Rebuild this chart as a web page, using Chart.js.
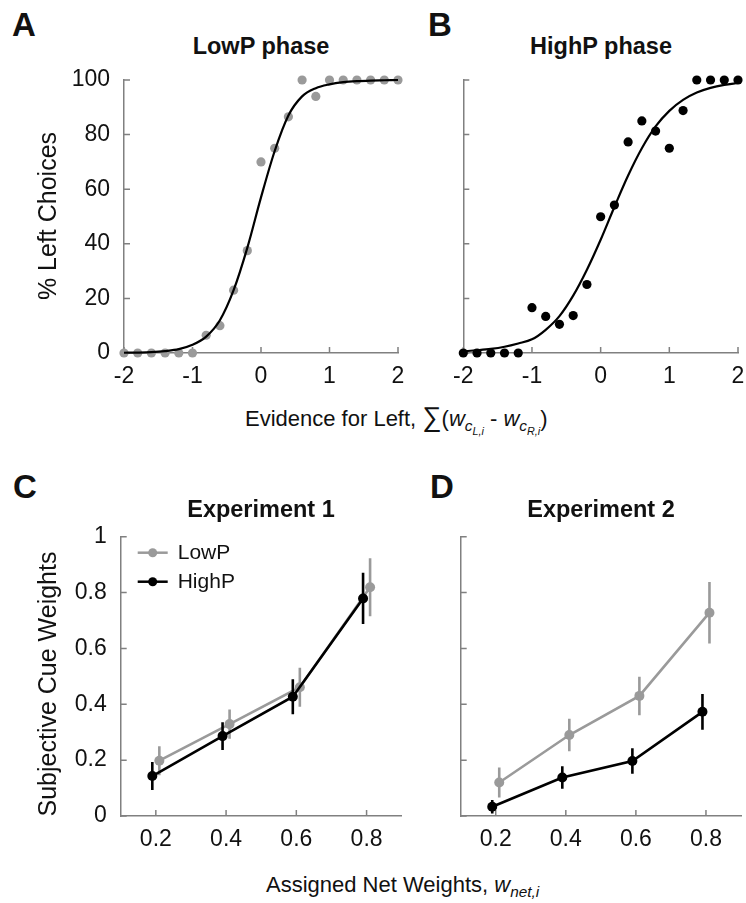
<!DOCTYPE html>
<html>
<head>
<meta charset="utf-8">
<title>Choice curves and cue weights</title>
<script src="https://cdn.jsdelivr.net/npm/chart.js@4.4.1/dist/chart.umd.min.js"></script>
<style>
  body { margin: 0; background: #fff; }
  #fig { position: relative; width: 746px; height: 903px; font-family: "Liberation Sans", Arial, sans-serif; color: #111; overflow: hidden; }
  #fig canvas { position: absolute; }
  .lbl { position: absolute; white-space: nowrap; line-height: 1; transform: translate(-50%, -50%); }
  .left { transform: translate(0, -50%); }
  .letter { font-weight: bold; font-size: 33px; }
  .title { font-weight: bold; font-size: 23.5px; }
  .axis { font-size: 22px; }
  .rot { font-size: 25px; transform: translate(-50%, -50%) rotate(-90deg); }
  .it { font-style: italic; }
  .sig { font-size: 27px; }
  sub { font-size: 70%; line-height: 0; }
</style>
</head>
<body>
<div id="fig">
  <canvas id="chartA" width="412" height="340" style="left:0;top:60px"></canvas>
  <canvas id="chartB" width="334" height="340" style="left:412px;top:60px"></canvas>
  <canvas id="chartC" width="412" height="340" style="left:0;top:520px"></canvas>
  <canvas id="chartD" width="334" height="340" style="left:412px;top:520px"></canvas>

  <div class="lbl letter" style="left:24px;top:24px">A</div>
  <div class="lbl letter" style="left:440px;top:24px">B</div>
  <div class="lbl letter" style="left:25px;top:486px">C</div>
  <div class="lbl letter" style="left:442px;top:486px">D</div>

  <div class="lbl title" style="left:261px;top:47px">LowP phase</div>
  <div class="lbl title" style="left:601px;top:47px">HighP phase</div>
  <div class="lbl title" style="left:261px;top:510px">Experiment 1</div>
  <div class="lbl title" style="left:601px;top:510px">Experiment 2</div>

  <div class="lbl rot" style="left:47px;top:216px">% Left Choices</div>
  <div class="lbl rot" style="left:47px;top:684px">Subjective Cue Weights</div>

  <div class="lbl axis left" style="left:245px;top:418px">Evidence for Left, <span class="sig">&sum;</span>(<span class="it">w</span><sub class="it">c<sub>L,i</sub></sub> - <span class="it">w</span><sub class="it">c<sub>R,i</sub></sub>)</div>
  <div class="lbl axis left" style="left:266px;top:885px">Assigned Net Weights, <span class="it">w</span><sub class="it">net,i</sub></div>
</div>

<script>
// Evidence levels and percentage of left choices per phase
const evidence = [-2, -1.8, -1.6, -1.4, -1.2, -1, -0.8, -0.6, -0.4, -0.2, 0, 0.2, 0.4, 0.6, 0.8, 1, 1.2, 1.4, 1.6, 1.8, 2];
const lowPChoices = [0, 0, 0, 0, 0, 0, 6.5, 10, 23, 37.5, 70, 75, 86.5, 100, 94, 100, 100, 100, 100, 100, 100];
const highPChoices = [0, 0, 0, 0, 0, 16.6, 13.4, 10.5, 13.7, 25.1, 49.9, 54.2, 77.3, 85, 81.3, 75, 88.8, 100, 100, 100, 100];
// Fitted psychometric curves, sampled at the same evidence levels
const lowPFit = [0.1, 0.15, 0.3, 0.7, 1.4, 3, 6, 12, 23, 38.5, 57, 74, 87, 94, 97, 98.4, 99.2, 99.6, 99.8, 99.9, 100];
const highPFit = [0.6, 1, 1.5, 2.3, 3.5, 5, 8.5, 13.5, 21, 30.5, 41.5, 53.5, 65, 75, 83, 88.7, 92.7, 95.4, 97.1, 98.2, 98.9];

// Subjective cue weights (mean and error) per assigned net weight
const netWeights = [0.2, 0.4, 0.6, 0.8];
const exp1LowP = [0.198, 0.329, 0.461, 0.819];
const exp1LowPErr = [0.052, 0.052, 0.07, 0.104];
const exp1HighP = [0.143, 0.286, 0.427, 0.779];
const exp1HighPErr = [0.05, 0.05, 0.063, 0.092];
const exp2LowP = [0.12, 0.29, 0.43, 0.728];
const exp2LowPErr = [0.054, 0.058, 0.069, 0.11];
const exp2HighP = [0.033, 0.138, 0.197, 0.373];
const exp2HighPErr = [0.024, 0.04, 0.046, 0.064];

const GREY = '#9a9a9a';
const BLACK = '#000';
const AXIS = '#808080';
const TICK_FONT = { family: '"Liberation Sans", Arial, sans-serif', size: 23 };
const SPREAD = 0.01;   // small horizontal offset so the two conditions don't overlap

// Short tick marks pointing into the plot area
const inwardTicks = {
  id: 'inwardTicks',
  beforeDatasetsDraw(chart) {
    const { ctx, chartArea: a, scales: { x, y } } = chart;
    ctx.save();
    ctx.strokeStyle = AXIS;
    ctx.lineWidth = 1.5;
    ctx.beginPath();
    x.ticks.forEach(t => {
      const px = x.getPixelForValue(t.value);
      ctx.moveTo(px, a.bottom);
      ctx.lineTo(px, a.bottom - 6);
    });
    y.ticks.forEach(t => {
      const py = y.getPixelForValue(t.value);
      ctx.moveTo(a.left, py);
      ctx.lineTo(a.left + 6, py);
    });
    ctx.stroke();
    ctx.restore();
  }
};

// Vertical error bars taken from each dataset's "errors" array
const errorBars = {
  id: 'errorBars',
  afterDatasetDraw(chart, args) {
    const ds = chart.data.datasets[args.index];
    if (!ds.errors) return;
    const { ctx, scales: { y } } = chart;
    ctx.save();
    ctx.strokeStyle = ds.borderColor;
    ctx.lineWidth = 2.6;
    ctx.beginPath();
    args.meta.data.forEach((pt, j) => {
      const v = ds.data[j].y, e = ds.errors[j];
      ctx.moveTo(pt.x, y.getPixelForValue(v - e));
      ctx.lineTo(pt.x, y.getPixelForValue(v + e));
    });
    ctx.stroke();
    ctx.restore();
  }
};

// Legend with a line and a dot for each series
const lineDotLegend = {
  id: 'lineDotLegend',
  afterDraw(chart, args, opts) {
    if (!opts.show) return;
    const { ctx, chartArea: a } = chart;
    const items = chart.data.datasets.slice().sort((p, q) => q.order - p.order);
    ctx.save();
    ctx.font = '21px "Liberation Sans", Arial, sans-serif';
    ctx.textBaseline = 'middle';
    items.forEach((ds, i) => {
      const y = a.top + 16 + i * 29;
      const x0 = a.left + 17;
      ctx.strokeStyle = ds.borderColor;
      ctx.lineWidth = 2.5;
      ctx.beginPath();
      ctx.moveTo(x0, y);
      ctx.lineTo(x0 + 30, y);
      ctx.stroke();
      ctx.fillStyle = ds.borderColor;
      ctx.beginPath();
      ctx.arc(x0 + 15, y, 4.5, 0, Math.PI * 2);
      ctx.fill();
      ctx.fillStyle = '#111';
      ctx.fillText(ds.label, x0 + 40, y + 1);
    });
    ctx.restore();
  }
};

function pairs(xs, ys, shift) {
  return xs.map((x, i) => ({ x: x + (shift || 0), y: ys[i] }));
}

function axes(o) {
  return {
    x: {
      type: 'linear', min: o.xMin, max: o.xMax,
      grid: { display: false, drawTicks: false },
      border: { display: true, color: AXIS, width: 1.5 },
      ticks: {
        stepSize: o.xStep, font: TICK_FONT, color: '#111', padding: 10, maxRotation: 0,
        callback: v => o.xFmt(v)
      },
      afterBuildTicks: o.xTicks ? s => { s.ticks = o.xTicks.map(v => ({ value: v })); } : undefined,
      // fixed height, and no extra room reserved for the end labels
      afterFit: s => { s.height = o.xHeight; s.paddingLeft = 0; s.paddingRight = 0; }
    },
    y: {
      type: 'linear', min: o.yMin, max: o.yMax,
      grid: { display: false, drawTicks: false },
      border: { display: true, color: AXIS, width: 1.5 },
      ticks: {
        stepSize: o.yStep, font: TICK_FONT, color: '#111', padding: 14, display: o.yLabels,
        callback: v => String(Number(v.toFixed(1)))
      },
      afterFit: s => { s.width = o.yWidth; s.paddingTop = 0; s.paddingBottom = 0; }
    }
  };
}

function choiceChart(id, points, fit, dotColor, opt) {
  return new Chart(document.getElementById(id), {
    type: 'scatter',
    data: {
      datasets: [
        {
          type: 'line', label: 'fit', data: pairs(evidence, fit), order: 0,
          borderColor: BLACK, borderWidth: 2.2, pointRadius: 0,
          cubicInterpolationMode: 'monotone', clip: false
        },
        {
          label: 'data', data: pairs(evidence, points), order: 1,
          backgroundColor: dotColor, borderWidth: 0, pointRadius: 4.6, clip: false
        }
      ]
    },
    options: {
      responsive: false, animation: false,
      layout: { padding: opt.padding },
      plugins: { legend: { display: false }, tooltip: { enabled: false } },
      scales: axes({
        xMin: -2, xMax: 2, xStep: 1, xFmt: v => String(v), xHeight: 47,
        yMin: 0, yMax: 100, yStep: 20, yLabels: opt.yLabels, yWidth: opt.yWidth
      })
    },
    plugins: [inwardTicks]
  });
}

function weightChart(id, lowP, lowPErr, highP, highPErr, opt) {
  return new Chart(document.getElementById(id), {
    type: 'line',
    data: {
      datasets: [
        {
          label: 'HighP', data: pairs(netWeights, highP, -SPREAD), errors: highPErr, order: 0,
          borderColor: BLACK, backgroundColor: BLACK, borderWidth: 2.6,
          pointRadius: 5, pointBorderWidth: 0, clip: false
        },
        {
          label: 'LowP', data: pairs(netWeights, lowP, SPREAD), errors: lowPErr, order: 1,
          borderColor: GREY, backgroundColor: GREY, borderWidth: 2.6,
          pointRadius: 5, pointBorderWidth: 0, clip: false
        }
      ]
    },
    options: {
      responsive: false, animation: false,
      layout: { padding: opt.padding },
      plugins: { legend: { display: false }, tooltip: { enabled: false }, lineDotLegend: { show: opt.legend } },
      scales: axes({
        xMin: 0.1, xMax: 0.9, xTicks: netWeights, xFmt: v => v.toFixed(1), xHeight: 44,
        yMin: 0, yMax: 1, yStep: 0.2, yLabels: opt.yLabels, yWidth: opt.yWidth
      })
    },
    plugins: [inwardTicks, errorBars, lineDotLegend]
  });
}

choiceChart('chartA', lowPChoices, lowPFit, GREY, { padding: { left: 0, top: 20, right: 14, bottom: 0 }, yLabels: true, yWidth: 124 });
choiceChart('chartB', highPChoices, highPFit, BLACK, { padding: { left: 0, top: 20, right: 8, bottom: 0 }, yLabels: false, yWidth: 51.3 });
weightChart('chartC', exp1LowP, exp1LowPErr, exp1HighP, exp1HighPErr, { padding: { left: 0, top: 16.7, right: 10.3, bottom: 0 }, yLabels: true, yWidth: 120.7, legend: true });
weightChart('chartD', exp2LowP, exp2LowPErr, exp2HighP, exp2HighPErr, { padding: { left: 0, top: 16.7, right: 4.3, bottom: 0 }, yLabels: false, yWidth: 48.7, legend: false });
</script>
</body>
</html>
